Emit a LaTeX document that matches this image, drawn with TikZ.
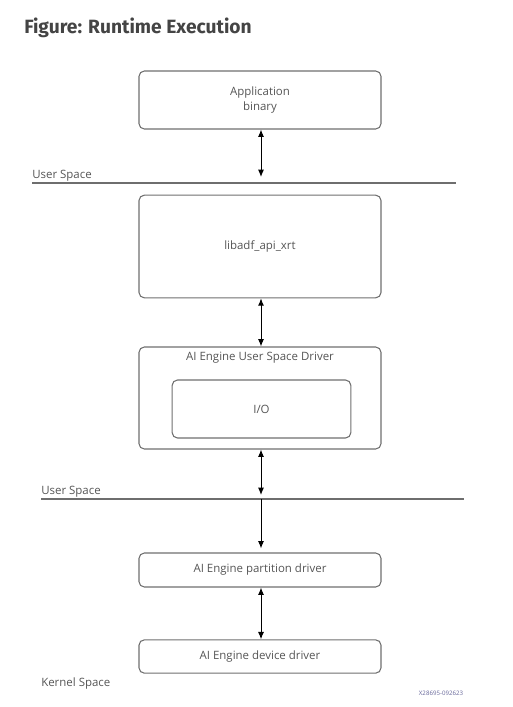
\documentclass[tikz,border=0pt]{standalone}
\usepackage{fontspec}
\setmainfont{Open Sans}
\newfontfamily\titlefont{Fira Sans}
\usepackage{xcolor}
\usepackage{tikz}
\usetikzlibrary{arrows.meta,positioning}
\definecolor{textgray}{RGB}{85,85,85}
\definecolor{linegray}{RGB}{110,110,110}
\definecolor{titlegray}{RGB}{68,68,68}

\begin{document}
\begin{tikzpicture}[
  x=0.75pt,y=-0.75pt,
  every node/.style={font=\fontsize{8.6}{11}\selectfont,text=textgray},
  block/.style={rectangle,draw=linegray,rounded corners=4pt,line width=0.8pt,
                minimum width=181.5pt,inner sep=0pt,align=center},
  inner/.style={rectangle,draw=linegray,rounded corners=4pt,line width=0.8pt,
                minimum width=134pt,minimum height=43.5pt,inner sep=0pt},
  layer/.style={draw=linegray,line width=1.1pt},
  arrow/.style={-{Latex[length=5.5pt,width=4.5pt]},line width=0.75pt},
  both_arrow/.style={{Latex[length=5.5pt,width=4.5pt]}-{Latex[length=5.5pt,width=4.5pt]},line width=0.75pt},
  spacelabel/.style={anchor=base west,inner sep=0pt},
]
\useasboundingbox (0,0) rectangle (513,707);

% Title
\node[anchor=base west,inner sep=0pt,text=titlegray,
      font=\titlefont\bfseries\fontsize{14.4}{16}\selectfont] (title) at (24,33)
      {Figure: Runtime Execution};

% Boxes
\node[block,minimum height=43.5pt] (app) at (260,100) {Application\\binary};
\node[block,minimum height=77pt]   (lib) at (260,246.5) {libadf\_api\_xrt};
\node[block,minimum height=76.5pt] (usd) at (260,398) {};
\node[anchor=north,inner sep=0pt] (usdtitle) at ([yshift=-4pt]usd.north)
      {AI Engine User Space Driver};
\node[inner] (io) at (261.5,409) {I/O};
\node[block,minimum height=25.5pt] (part) at (260,570) {AI Engine partition driver};
\node[block,minimum height=25pt]   (dev)  at (260,656.5) {AI Engine device driver};

% Space boundaries
\draw[layer] (32,183) coordinate (l1w) -- (456,183) coordinate (l1e);
\draw[layer] (41,499) coordinate (l2w) -- (464,499) coordinate (l2e);
\node[spacelabel] (us1) at (32,178) {User Space};
\node[spacelabel] (us2) at (41,494) {User Space};
\node[spacelabel] (ks)  at (41,686) {Kernel Space};

% Arrow ends on the boundaries
\coordinate (a1) at (261,177);
\coordinate (a3) at (261,495);
\coordinate (a4) at (261,499);

% Arrows
\draw[both_arrow] ([xshift=0.75pt]app.south) -- (a1);
\draw[both_arrow] ([xshift=0.75pt]lib.south) -- ([xshift=0.75pt]usd.north);
\draw[both_arrow] ([xshift=0.75pt]usd.south) -- (a3);
\draw[arrow] (a4) -- ([xshift=0.75pt,yshift=3pt]part.north);
\draw[both_arrow] ([xshift=0.75pt]part.south) -- ([xshift=0.75pt]dev.north);

% Figure number
\node[font=\fontsize{4.6}{5}\selectfont,text=gray!80!blue,inner sep=0pt] (fig) at (441,693)
      {X28695-092623};

\end{tikzpicture}
\end{document}
